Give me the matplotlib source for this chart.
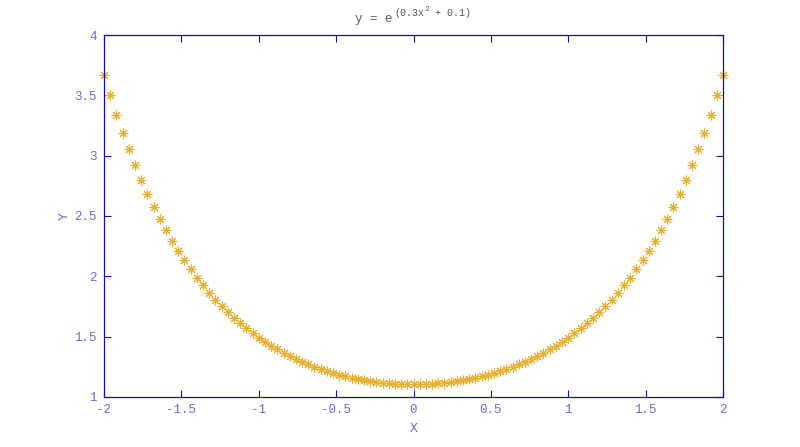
"""y = e^(0.3x^2 + 0.1) sampled on [-2, 2]"""

import matplotlib
matplotlib.use("Agg")
import matplotlib.pyplot as plt

plt.rcParams['font.family'] = 'Liberation Mono'

# sample points
x_vals = [
    -2.00, -1.96, -1.92, -1.88, -1.84, -1.80, -1.76, -1.72, -1.68, -1.64,
    -1.60, -1.56, -1.52, -1.48, -1.44, -1.40, -1.36, -1.32, -1.28, -1.24,
    -1.20, -1.16, -1.12, -1.08, -1.04, -1.00, -0.96, -0.92, -0.88, -0.84,
    -0.80, -0.76, -0.72, -0.68, -0.64, -0.60, -0.56, -0.52, -0.48, -0.44,
    -0.40, -0.36, -0.32, -0.28, -0.24, -0.20, -0.16, -0.12, -0.08, -0.04,
    0.00,
    0.04, 0.08, 0.12, 0.16, 0.20, 0.24, 0.28, 0.32, 0.36, 0.40,
    0.44, 0.48, 0.52, 0.56, 0.60, 0.64, 0.68, 0.72, 0.76, 0.80,
    0.84, 0.88, 0.92, 0.96, 1.00, 1.04, 1.08, 1.12, 1.16, 1.20,
    1.24, 1.28, 1.32, 1.36, 1.40, 1.44, 1.48, 1.52, 1.56, 1.60,
    1.64, 1.68, 1.72, 1.76, 1.80, 1.84, 1.88, 1.92, 1.96, 2.00,
]
y_vals = [
    3.669, 3.499, 3.340, 3.191, 3.052, 2.921, 2.799, 2.685, 2.577, 2.477,
    2.382, 2.294, 2.210, 2.132, 2.059, 1.990, 1.925, 1.864, 1.807, 1.753,
    1.702, 1.655, 1.610, 1.568, 1.529, 1.492, 1.457, 1.425, 1.394, 1.366,
    1.339, 1.314, 1.291, 1.270, 1.250, 1.231, 1.214, 1.199, 1.184, 1.171,
    1.160, 1.149, 1.140, 1.132, 1.124, 1.119, 1.114, 1.110, 1.107, 1.106,
    1.105,
    1.106, 1.107, 1.110, 1.114, 1.119, 1.124, 1.132, 1.140, 1.149, 1.160,
    1.171, 1.184, 1.199, 1.214, 1.231, 1.250, 1.270, 1.291, 1.314, 1.339,
    1.366, 1.394, 1.425, 1.457, 1.492, 1.529, 1.568, 1.610, 1.655, 1.702,
    1.753, 1.807, 1.864, 1.925, 1.990, 2.059, 2.132, 2.210, 2.294, 2.382,
    2.477, 2.577, 2.685, 2.799, 2.921, 3.052, 3.191, 3.340, 3.499, 3.669,
]
x_ticks = [-2, -1.5, -1, -0.5, 0, 0.5, 1, 1.5, 2]
x_ticklabels = ['-2', '-1.5', '-1', '-0.5', '0', '0.5', '1', '1.5', '2']
y_ticks = [1, 1.5, 2, 2.5, 3, 3.5, 4]
y_ticklabels = ['1', '1.5', '2', '2.5', '3', '3.5', '4']

AXIS_COL = '#1010a8'
TEXT_COL = '#6a6ad8'
TITLE_COL = '#555555'

fig = plt.figure(figsize=(8, 4.47), dpi=100)
ax = fig.add_axes([0.13, 0.1119, 0.77375, 0.8098])

ax.plot(x_vals, y_vals, linestyle='none', marker=(8, 2, 0),
        markersize=7, markeredgewidth=0.8, color='#E8B030', clip_on=False)

ax.set_xlim(-2, 2)
ax.set_ylim(1, 4)
ax.set_xticks(x_ticks)
ax.set_xticklabels(x_ticklabels)
ax.set_yticks(y_ticks)
ax.set_yticklabels(y_ticklabels)
ax.tick_params(direction='in', length=5, width=0.8, top=True, right=True,
               colors=AXIS_COL, labelcolor=TEXT_COL, labelsize=9, pad=5)
for sp in ax.spines.values():
    sp.set_color(AXIS_COL)
    sp.set_linewidth(0.9)

ax.set_xlabel('X', color=TEXT_COL, fontsize=9.5, labelpad=5)
ax.set_ylabel('Y', color=TEXT_COL, fontsize=9.5, labelpad=3)

# title built from pieces so the exponent keeps a near-normal size
r = fig.canvas.get_renderer()
inv = fig.transFigure.inverted()
base_y = (447 - 22) / 447
t1 = fig.text(355 / 800, base_y, 'y = e', fontsize=9, color=TITLE_COL,
              va='baseline', ha='left')
x1 = inv.transform(t1.get_window_extent(r))[1][0] + 2 / 800
t2 = fig.text(x1, base_y + 6 / 447, '(0.3x', fontsize=7.2, color=TITLE_COL,
              va='baseline', ha='left')
x2 = inv.transform(t2.get_window_extent(r))[1][0]
t3 = fig.text(x2, base_y + 11 / 447, '2', fontsize=5.5, color=TITLE_COL,
              va='baseline', ha='left')
x3 = inv.transform(t3.get_window_extent(r))[1][0]
fig.text(x3, base_y + 6 / 447, ' + 0.1)', fontsize=7.2, color=TITLE_COL,
         va='baseline', ha='left')

fig.savefig('out.png', dpi=100, facecolor='white')
